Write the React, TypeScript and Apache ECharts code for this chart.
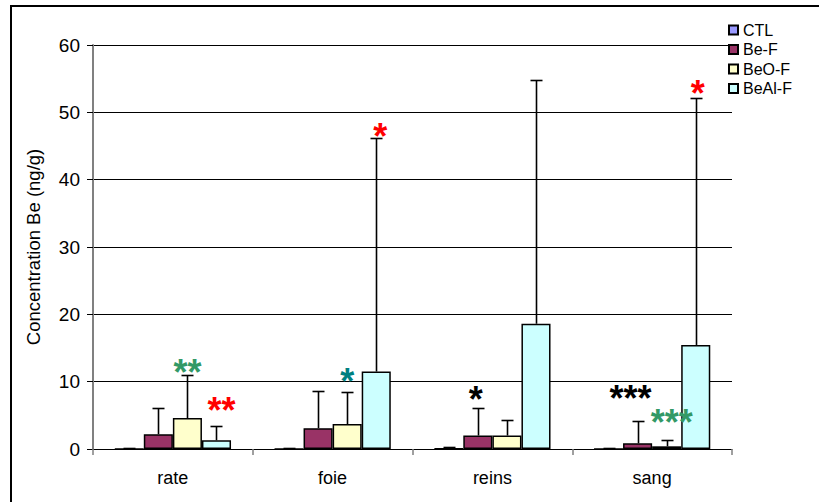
import React, { useEffect, useRef } from "react";
import * as echarts from "echarts";

const categories = ["rate", "foie", "reins", "sang"];
const seriesNames = ["CTL", "Be-F", "BeO-F", "BeAl-F"];
const seriesColors = ["#9999FF", "#993366", "#FFFFCC", "#CCFFFF"];

const ctlMean = [0.02, 0.02, 0.05, 0.02];
const ctlSd = [0.08, 0.08, 0.2, 0.08];
const beFMean = [2.2, 3.1, 2.0, 0.85];
const beFSd = [3.9, 5.5, 4.1, 3.3];
const beOFMean = [4.6, 3.7, 2.0, 0.4];
const beOFSd = [6.4, 4.7, 2.35, 0.9];
const beAlFMean = [1.3, 11.5, 18.6, 15.45];
const beAlFSd = [2.15, 34.7, 36.2, 36.65];

const means = [ctlMean, beFMean, beOFMean, beAlFMean];
const sds = [ctlSd, beFSd, beOFSd, beAlFSd];

// significance stars: category index, series index, y position (data units), text, colour
const starCat = [0, 0, 1, 1, 2, 3, 3, 3];
const starSeries = [2, 3, 2, 3, 1, 1, 2, 3];
const starY = [12.2, 6.5, 10.8, 47.2, 8.2, 8.3, 4.75, 53.6];
const starText = ["**", "**", "*", "*", "*", "***", "***", "*"];
const starColor = ["#339966", "#FF0000", "#008080", "#FF0000", "#000000", "#000000", "#339966", "#FF0000"];
const starDx = [0, 5, 0, 4, -2, -7, 5, 2];

const yTicks = { min: 0, max: 60, interval: 10 };

const FONT = "'Liberation Sans', Arial, sans-serif";
const BAR_FRAC = 0.182;
const STAR_SIZE = 36;

export default function App() {
  const ref = useRef<HTMLDivElement>(null);
  useEffect(() => {
    if (!ref.current) return;
    const chart = echarts.init(ref.current, undefined, { renderer: "svg" });

    const errData: number[][] = [];
    means.forEach((m, s) => {
      m.forEach((v, c) => {
        errData.push([c, s, v, v + sds[s][c]]);
      });
    });
    const starData = starCat.map((c, i) => [c, starY[i]]);

    const barSeries = seriesNames.map((name, s) => ({
      name,
      type: "bar",
      data: means[s],
      barWidth: BAR_FRAC * 100 + "%",
      barGap: "0%",
      itemStyle: { color: seriesColors[s], borderColor: "#000", borderWidth: 1.5 },
      z: 2,
    }));

    const option: any = {
      animation: false,
      textStyle: { fontFamily: FONT },
      graphic: [
        {
          type: "rect",
          shape: { x: 11, y: 6, width: 900, height: 700 },
          style: { fill: "none", stroke: "#000", lineWidth: 2 },
          z: 0,
        },
      ],
      legend: {
        orient: "vertical",
        left: 723,
        top: 17,
        itemWidth: 9,
        itemHeight: 9,
        itemGap: 3.5,
        itemTextGap: 3,
        icon: "rect",
        data: seriesNames,
        textStyle: { fontSize: 16, color: "#000", fontFamily: FONT },
      },
      grid: { left: 93, right: 87, top: 45, bottom: 53, containLabel: false },
      xAxis: {
        type: "category",
        data: categories,
        axisLine: { lineStyle: { color: "#000", width: 1 } },
        axisTick: { show: true, length: 6, lineStyle: { color: "#808080", width: 1.5 } },
        axisLabel: { fontSize: 18, color: "#000", margin: 20, fontFamily: FONT },
      },
      yAxis: {
        type: "value",
        min: yTicks.min,
        max: yTicks.max,
        interval: yTicks.interval,
        name: "Concentration Be (ng/g)",
        nameLocation: "middle",
        nameGap: 50,
        nameTextStyle: { fontSize: 18.5, color: "#000", fontFamily: FONT },
        axisLine: { show: true, lineStyle: { color: "#808080", width: 2 } },
        axisTick: { show: true, length: 6, lineStyle: { color: "#000" } },
        axisLabel: { fontSize: 19, color: "#000", margin: 13, fontFamily: FONT },
        splitLine: { lineStyle: { color: "#000", width: 1 } },
      },
      series: [
        ...barSeries,
        {
          type: "custom",
          name: "err",
          data: errData,
          encode: { x: 0, y: [2, 3] },
          z: 3,
          silent: true,
          renderItem: (params: any, api: any) => {
            const c = api.value(0);
            const s = api.value(1);
            const v = api.value(2);
            const hi = api.value(3);
            const band = api.size([1, 0])[0];
            const bw = band * BAR_FRAC;
            const base = api.coord([c, v]);
            const top = api.coord([c, hi]);
            const x = Math.round(base[0] + (s - 1.5) * bw) + 0.5;
            const ty = Math.round(top[1]) + 0.5;
            return {
              type: "group",
              children: [
                { type: "line", shape: { x1: x, y1: base[1], x2: x, y2: ty }, style: { stroke: "#000", lineWidth: 1.6 } },
                { type: "line", shape: { x1: x - 6, y1: ty, x2: x + 6, y2: ty }, style: { stroke: "#000", lineWidth: 1.6 } },
              ],
            };
          },
        },
        {
          type: "custom",
          name: "stars",
          data: starData,
          encode: { x: 0, y: 1 },
          z: 4,
          silent: true,
          renderItem: (params: any, api: any) => {
            const i = params.dataIndex;
            const c = api.value(0);
            const yv = api.value(1);
            const band = api.size([1, 0])[0];
            const bw = band * BAR_FRAC;
            const p = api.coord([c, yv]);
            const x = p[0] + (starSeries[i] - 1.5) * bw + starDx[i];
            return {
              type: "text",
              x,
              y: p[1] + 0.155 * STAR_SIZE,
              style: {
                text: starText[i],
                fill: starColor[i],
                fontSize: STAR_SIZE,
                fontWeight: "bold",
                fontFamily: FONT,
                align: "center",
                verticalAlign: "middle",
              },
            };
          },
        },
      ],
    };
    chart.setOption(option);
    return () => chart.dispose();
  }, []);
  return (
    <div
      ref={ref}
      style={{ position: "fixed", left: 0, top: 0, width: 819, height: 502, background: "#fff" }}
    />
  );
}
